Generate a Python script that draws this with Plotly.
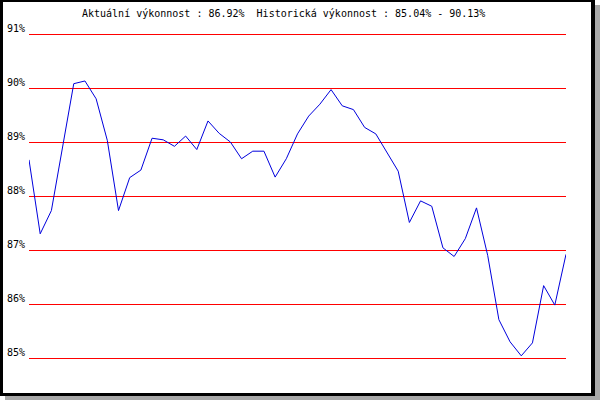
import plotly.graph_objects as go

values = [88.67, 87.30, 87.73, 88.91, 90.08, 90.13, 89.80, 89.03, 87.73, 88.34,
          88.48, 89.07, 89.04, 88.92, 89.11, 88.86, 89.39, 89.16, 89.00, 88.69,
          88.83, 88.83, 88.35, 88.69, 89.15, 89.48, 89.70, 89.97, 89.67, 89.60,
          89.27, 89.15, 88.81, 88.46, 87.51, 87.91, 87.81, 87.04, 86.88, 87.21,
          87.78, 86.90, 85.71, 85.30, 85.04, 85.28, 86.34, 85.98, 86.92]
tick_values = [85, 86, 87, 88, 89, 90, 91]
tick_labels = ["85%", "86%", "87%", "88%", "89%", "90%", "91%"]
title_text = "Aktuální výkonnost : 86.92%  Historická výkonnost : 85.04% - 90.13%"

W, H = 600, 400
L, R, T, B = 29, 34, 32, 40
pw, ph = W - L - R, H - T - B
pad = 2 / 54

def px(x):
    return (x - L) / pw

def py(y):
    return (H - B - y) / ph

fig = go.Figure()
fig.add_trace(go.Scatter(x=list(range(len(values))), y=values, mode="lines",
                         line=dict(color="#0000dd", width=1), hoverinfo="skip",
                         cliponaxis=False))

shapes = [
    dict(type="rect", xref="paper", yref="paper", x0=px(5), x1=px(600), y0=py(400), y1=py(5),
         fillcolor="#a8a8a8", line=dict(width=0), layer="below"),
    dict(type="rect", xref="paper", yref="paper", x0=px(0), x1=px(595), y0=py(396), y1=py(0),
         fillcolor="black", line=dict(width=0), layer="below"),
    dict(type="rect", xref="paper", yref="paper", x0=px(3), x1=px(591), y0=py(393), y1=py(2),
         fillcolor="white", line=dict(width=0), layer="below"),
]
for v in tick_values:
    shapes.append(dict(type="line", xref="paper", yref="y", ysizemode="pixel", yanchor=v,
                       x0=0, x1=1, y0=-0.5, y1=-0.5,
                       line=dict(color="#ff0000", width=1), layer="below"))

annotations = [dict(x=px(27), y=v, xref="paper", yref="y", text=t, showarrow=False,
                    xanchor="right", yanchor="middle", yshift=6,
                    font=dict(family="DejaVu Sans Mono", size=10, color="black"))
               for v, t in zip(tick_values, tick_labels)]
annotations.append(dict(x=px(283), y=py(14), xref="paper", yref="paper", text=title_text,
                        showarrow=False, xanchor="center", yanchor="middle",
                        font=dict(family="DejaVu Sans Mono", size=10, color="black")))

fig.update_layout(
    width=W, height=H, margin=dict(l=L, r=R, t=T, b=B, pad=0),
    paper_bgcolor="white", plot_bgcolor="rgba(0,0,0,0)", showlegend=False,
    xaxis=dict(range=[0, len(values) - 1], showgrid=False, zeroline=False,
               showticklabels=False, showline=False, fixedrange=True),
    yaxis=dict(range=[85 - pad, 91 + pad], showticklabels=False, showgrid=False,
               zeroline=False, showline=False, fixedrange=True),
    shapes=shapes, annotations=annotations,
)
fig.write_html("out.html", config={"displayModeBar": False},
               post_script="document.body.style.margin='0';document.body.style.padding='0';")
